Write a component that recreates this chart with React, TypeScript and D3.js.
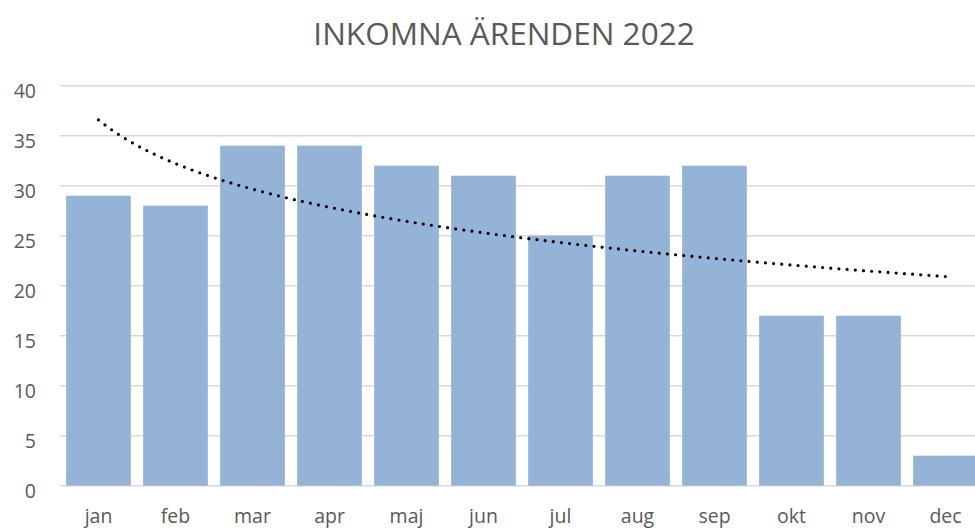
import React from "react";
import * as d3 from "d3";

const months = ["jan", "feb", "mar", "apr", "maj", "jun", "jul", "aug", "sep", "okt", "nov", "dec"];
const values = [29, 28, 34, 34, 32, 31, 25, 31, 32, 17, 17, 3];
const yTicks = [0, 5, 10, 15, 20, 25, 30, 35, 40];
const title = "INKOMNA ÄRENDEN 2022";

const W = 975;
const H = 530;
const plotLeft = 60;
const plotRight = 984;
const plotTop = 85.7;
const plotBottom = 485.7;
const font = "'Open Sans', sans-serif";
const textColor = "#595959";

export default function App() {
  const x = d3.scaleBand<string>().domain(months).range([plotLeft, plotRight]).paddingInner(0.16).paddingOuter(0.08);
  const y = d3.scaleLinear().domain([0, 40]).range([plotBottom, plotTop]);

  // logarithmic trendline (least squares on ln(x))
  const lx = values.map((_, i) => Math.log(i + 1));
  const mx = d3.mean(lx) as number;
  const my = d3.mean(values) as number;
  const sxy = d3.sum(lx.map((v, i) => (v - mx) * (values[i] - my)));
  const sxx = d3.sum(lx.map((v) => (v - mx) * (v - mx)));
  const b = sxy / sxx;
  const a = my - b * mx;
  const step = x.step();
  const c0 = (x(months[0]) as number) + x.bandwidth() / 2;
  const samples = d3.range(0, 11.0001, 0.05);
  const line = d3
    .line<number>()
    .x((t) => c0 + t * step)
    .y((t) => y(a + b * Math.log(t + 1)))
    .curve(d3.curveLinear);

  return (
    <svg width={W} height={H} style={{ position: "absolute", left: 0, top: 0, background: "#fff" }}>
      <text x={504} y={44.5} textAnchor="middle" fontFamily={font} fontSize={31.5} fill={textColor}>
        {title}
      </text>
      {yTicks.map((t) => (
        <g key={t}>
          <line x1={plotLeft} x2={W} y1={y(t)} y2={y(t)} stroke="#D9D9D9" strokeWidth={1.5} />
          <text x={36} y={y(t) + 5} dy="0.35em" textAnchor="end" fontFamily={font} fontSize={19.5} fill={textColor}>
            {t}
          </text>
        </g>
      ))}
      {months.map((m, i) => (
        <rect
          key={m}
          x={x(m)}
          y={y(values[i])}
          width={x.bandwidth()}
          height={y(0) - y(values[i])}
          fill="#95B3D7"
        />
      ))}
      {months.map((m) => (
        <text
          key={m}
          x={(x(m) as number) + x.bandwidth() / 2}
          y={516}
          dy="0.35em"
          textAnchor="middle"
          fontFamily={font}
          fontSize={19.5}
          fill={textColor}
        >
          {m}
        </text>
      ))}
      <path
        d={line(samples) || ""}
        fill="none"
        stroke="#000"
        strokeWidth={3.2}
        strokeLinecap="round"
        strokeDasharray="0 8.2"
      />
    </svg>
  );
}
